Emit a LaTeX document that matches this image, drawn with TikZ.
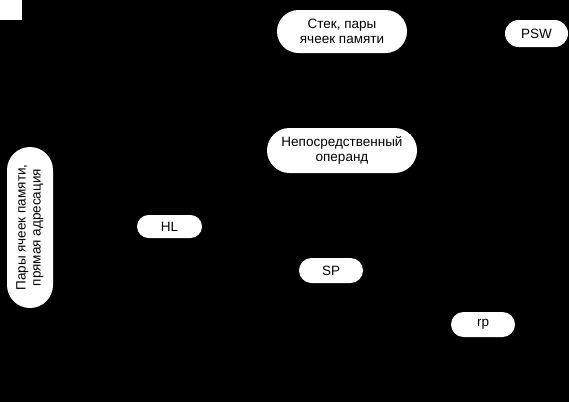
\documentclass[tikz,border=0pt]{standalone}
\usepackage{fontspec}
\setmainfont{Liberation Sans}
\begin{document}
\begin{tikzpicture}[x=1pt,y=-1pt,
  pill/.style={fill=white,draw=none,inner sep=0pt,align=center,
    font=\fontsize{13.5}{15}\selectfont,text=black}]
\fill[black] (0,0) rectangle (569,402);
\useasboundingbox (0,0) rectangle (569,402);
\fill[white] (0,0) rectangle (22,20);
\node[pill,minimum width=130pt,minimum height=43pt,rounded corners=21.5pt] (stack) at (342,31.5) {Стек, пары\\ячеек памяти};
\node[pill,minimum width=63pt,minimum height=27pt,rounded corners=13.5pt] (psw) at (536.5,33.5) {PSW};
\node[pill,minimum width=150pt,minimum height=45pt,rounded corners=22.5pt] (imm) at (342,150.5) {Непосредственный\\операнд};
\node[pill,rotate=90,minimum width=161pt,minimum height=46pt,rounded corners=23pt] (pairs) at (30,227.5) {Пары ячеек памяти,\\прямая адресация};
\node[pill,minimum width=65pt,minimum height=23pt,rounded corners=11.5pt] (hl) at (169.5,226.5) {HL};
\node[pill,minimum width=64pt,minimum height=25pt,rounded corners=12.5pt] (sp) at (331,270.5) {SP};
\node[pill,minimum width=64pt,minimum height=25pt,rounded corners=12.5pt] (rp) at (483,324.5) {rp};
\end{tikzpicture}
\end{document}
